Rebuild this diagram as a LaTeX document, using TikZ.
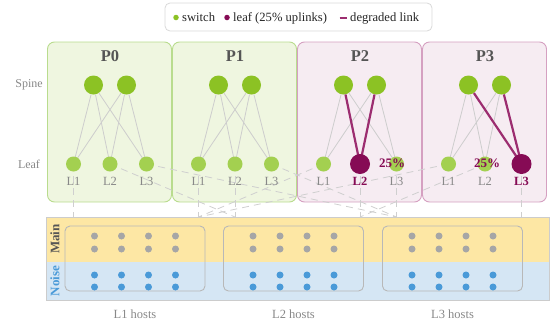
\documentclass[tikz,border=0pt]{standalone}
\usepackage{fontspec}
\setmainfont{Liberation Serif}
\definecolor{swgreen}{HTML}{8CC224}
\definecolor{lfgreen}{HTML}{A3D050}
\definecolor{degr}{HTML}{860B55}
\definecolor{degrline}{HTML}{9C2D70}
\definecolor{linkgray}{HTML}{CDCDCD}
\definecolor{dashgray}{HTML}{CFCFCF}
\definecolor{gfill}{HTML}{EFF6E0}
\definecolor{gdraw}{HTML}{B9DC8E}
\definecolor{pfill}{HTML}{F6ECF2}
\definecolor{pdraw}{HTML}{D5A0C1}
\definecolor{mainband}{HTML}{FDE7A4}
\definecolor{noiseband}{HTML}{D5E6F4}
\definecolor{hostgray}{HTML}{A6A6A6}
\definecolor{hostblue}{HTML}{4A9AD8}
\definecolor{txtgray}{HTML}{888888}
\definecolor{titlegray}{HTML}{555555}
\begin{document}
\begin{tikzpicture}[x=1pt,y=-1pt,
  podg/.style={draw=gdraw, fill=gfill, line width=0.9pt, rounded corners=7pt, minimum width=124pt, minimum height=160pt, inner sep=0, outer sep=0},
  podp/.style={draw=pdraw, fill=pfill, line width=0.9pt, rounded corners=7pt, minimum width=124pt, minimum height=160pt, inner sep=0, outer sep=0},
  podtitle/.style={font=\fontsize{16.5}{18}\selectfont\bfseries, text=titlegray},
  spinenode/.style={circle, fill=swgreen, minimum size=19pt, inner sep=0},
  leafnode/.style={circle, fill=lfgreen, minimum size=15pt, inner sep=0},
  badleaf/.style={circle, fill=degr, minimum size=20pt, inner sep=0},
  lbl/.style={font=\fontsize{12.5}{13}\selectfont, text=txtgray},
  badlbl/.style={font=\fontsize{12.5}{13}\selectfont\bfseries, text=degr},
  pct/.style={font=\fontsize{13}{14}\selectfont\bfseries, text=degr},
  rowlbl/.style={font=\fontsize{12}{13}\selectfont, text=txtgray},
  link/.style={draw=linkgray, line width=0.8pt},
  badlink/.style={draw=degrline, line width=2.2pt},
  hostlink/.style={draw=dashgray, line width=0.8pt, dash pattern=on 7pt off 5pt},
  hostgrp/.style={draw=hostgray!80, line width=0.9pt, rounded corners=5pt, minimum width=140pt, minimum height=65pt, inner sep=0},
  gdot/.style={circle, fill=hostgray, minimum size=7pt, inner sep=0},
  bdot/.style={circle, fill=hostblue, minimum size=7pt, inner sep=0},
  legtxt/.style={font=\fontsize{12.6}{14}\selectfont, text=black!85, anchor=base west, inner sep=0}
]
\useasboundingbox (0,0) rectangle (551,322);

% legend
\node[draw=black!15, line width=0.8pt, fill=white, rounded corners=5pt, minimum width=267pt, minimum height=28pt, inner sep=0] (legend) at (298.5,17) {};
\node[circle, fill=swgreen, minimum size=5.5pt, inner sep=0] (lg1) at (176,17.5) {};
\node[legtxt] (lt1) at (182,21.5) {switch};
\node[circle, fill=degr, minimum size=5.5pt, inner sep=0] (lg2) at (227,17.5) {};
\node[legtxt] (lt2) at (233,21.5) {leaf (25\% uplinks)};
\coordinate (lg3a) at (339.5,17.5);
\coordinate (lg3b) at (346.5,17.5);
\draw[degrline, line width=2pt] (lg3a) -- (lg3b);
\node[legtxt] (lt3) at (350,21.5) {degraded link};

% row labels
\node[rowlbl] (spinelbl) at (29,85) {Spine};
\node[rowlbl] (leaflbl) at (29,164) {Leaf};

% host panel
\node[fill=mainband, minimum width=503pt, minimum height=45pt, inner sep=0, outer sep=0] (mainb) at (297.5,239.5) {};
\node[fill=noiseband, minimum width=503pt, minimum height=38pt, inner sep=0, outer sep=0] (noiseb) at (297.5,281) {};
\node[draw=black!20, line width=0.9pt, minimum width=503pt, minimum height=83pt, inner sep=0] (hostpanel) at (297.5,258.5) {};
\node[rotate=90, font=\fontsize{13}{14}\selectfont\bfseries, text=titlegray] (mainlbl) at (55,239) {Main};
\node[rotate=90, font=\fontsize{13}{14}\selectfont\bfseries, text=hostblue] (noiselbl) at (55,281) {Noise};

\foreach \g/\gx in {1/135,2/293.5,3/452.5} {
  \node[hostgrp] (hg\g) at (\gx,258.5) {};
  \foreach \c/\dx in {1/-40.5,2/-13.5,3/13.5,4/40.5} {
    \node[gdot] (ga\g\c) at (\gx+\dx,236) {};
    \node[gdot] (gb\g\c) at (\gx+\dx,249) {};
    \node[bdot] (ba\g\c) at (\gx+\dx,275) {};
    \node[bdot] (bb\g\c) at (\gx+\dx,287) {};
  }
  \node[lbl] (hl\g) at (\gx,314) {L\g{} hosts};
}

% pods
\node[podg] (pod0) at (109.5,122) {};
\node[podg] (pod1) at (234.5,122) {};
\node[podp] (pod2) at (359.5,122) {};
\node[podp] (pod3) at (484.5,122) {};

\foreach \p in {0,1,2,3} {
  \node[podtitle] (ti\p) at ({110+125*\p},56) {P\p};
  \node[spinenode] (s\p a) at ({110+125*\p-16.5},85) {};
  \node[spinenode] (s\p b) at ({110+125*\p+16.5},85) {};
}

\foreach \p/\k in {0/1,0/2,0/3,1/1,1/2,1/3,2/1,2/2,2/3,3/1,3/2,3/3} {
  \coordinate (c\p\k) at ({110+125*\p+(\k-2)*36.5},164);
}
\foreach \p in {0,1,2,3} {
  \foreach \k in {1,2,3} {
    \draw[link] (s\p a) -- (c\p\k);
    \draw[link] (s\p b) -- (c\p\k);
  }
}
% host links
\foreach \p/\k/\tx in {0/1/73.5,0/2/235,0/3/396.5,1/1/198.5,1/2/235,1/3/396.5,2/1/198.5,2/2/360,2/3/396.5,3/1/198.5,3/2/360,3/3/521.5} {
  \coordinate (t\p\k) at (\tx,217);
  \draw[hostlink] (c\p\k) -- (t\p\k);
}
\draw[badlink] (s2a) -- (c22);
\draw[badlink] (s2b) -- (c22);
\draw[badlink] (s3a) -- (c33);
\draw[badlink] (s3b) -- (c33);

\foreach \p/\k/\st/\ls in {0/1/leafnode/lbl,0/2/leafnode/lbl,0/3/leafnode/lbl,1/1/leafnode/lbl,1/2/leafnode/lbl,1/3/leafnode/lbl,2/1/leafnode/lbl,2/2/badleaf/badlbl,2/3/leafnode/lbl,3/1/leafnode/lbl,3/2/leafnode/lbl,3/3/badleaf/badlbl} {
  \node[\st] (l\p\k) at (c\p\k) {};
  \node[\ls] (n\p\k) at ({110+125*\p+(\k-2)*36.5},181) {L\k};
}
\node[pct] (pct2) at (392,163) {25\%};
\node[pct] (pct3) at (487,163) {25\%};
\end{tikzpicture}
\end{document}
